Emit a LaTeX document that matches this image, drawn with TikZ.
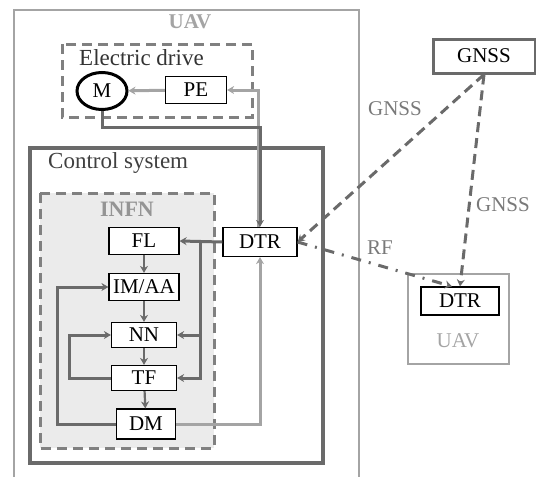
\documentclass[tikz,border=0pt]{standalone}
\usepackage{fontspec}
\setmainfont{Liberation Serif}
\usetikzlibrary{arrows.meta,shapes.geometric}

\definecolor{darkline}{HTML}{6A6A6A}
\definecolor{liteline}{HTML}{A4A4A4}
\definecolor{infnfill}{HTML}{EBEBEB}

\tikzset{
    blk/.style={draw=black, fill=white, line width=1.2pt, minimum height=27pt, inner sep=1pt,
        font=\fontsize{21}{24}\selectfont},
    lbl/.style={inner sep=0pt, font=\fontsize{21}{24}\selectfont},
    dashbox/.style={draw=darkline!85, line width=3pt, dash pattern=on 10pt off 6pt},
    lnk/.style={draw=darkline, line width=3pt, -{Stealth[length=7pt,width=8pt]}},
    litelnk/.style={lnk, draw=liteline},
    radiolnk/.style={lnk, dash pattern=on 10pt off 6pt},
}

\begin{document}
\begin{tikzpicture}[x=1pt, y=-1pt]
    \useasboundingbox (0,0) rectangle (536,477);

    \draw[liteline, line width=2.8pt] (14,477) -- (14,10) -- (359,10) -- (359,477);%own UAV
    \node[lbl, text=liteline, font=\fontsize{21}{24}\selectfont\bfseries] (uav) at (190,22) {UAV};

    \draw[dashbox] (62,44) rectangle (252,117);%electric drive
    \node[lbl, anchor=west, text=black!80, font=\fontsize{23}{26}\selectfont] (drvlbl) at (79,58) {Electric drive};

    \draw[darkline, line width=3.2pt] (30,148) rectangle (323,463);%control system
    \node[lbl, anchor=west, text=black!75, font=\fontsize{23}{26}\selectfont] (ctrllbl) at (48,163) {Control system};

    \draw[dashbox, fill=infnfill] (40,193) rectangle (214,448);%INFN
    \node[lbl, text=liteline!90!black, font=\fontsize{22}{25}\selectfont\bfseries] (infnlbl) at (127,209) {INFN};

    \node[blk, ellipse, line width=3pt, minimum width=50pt, minimum height=37pt, inner sep=0pt] (m) at (102,91) {M};
    \node[blk, minimum width=61pt] (pe) at (196,90) {PE};

    \node[blk, minimum width=74pt, minimum height=29pt] (dtr) at (260,242) {DTR};

    \node[blk, minimum width=70pt] (fl) at (144,241) {FL};
    \node[blk, minimum width=70pt] (im) at (144,287) {IM/AA};
    \node[blk, minimum width=65pt, minimum height=25pt] (nn) at (144,335) {NN};
    \node[blk, minimum width=65pt, minimum height=25pt] (tf) at (144,378) {TF};
    \node[blk, minimum width=59pt, minimum height=30pt] (dm) at (146,424) {DM};

    \node[blk, draw=darkline, line width=3pt, minimum width=102pt, minimum height=34pt] (gnss) at (484,56) {GNSS};
    \draw[liteline, line width=2.8pt] (408,274) rectangle (509,364);%other UAV
    \node[lbl, text=liteline] (uav2) at (458,341) {UAV};
    \node[blk, minimum width=78pt, minimum height=28pt] (rdtr) at (460,301) {DTR};

    % drive links
    \draw[litelnk] (pe) -- (m);
    \draw[litelnk] ([xshift=-2pt]dtr.north) |- (pe.east);
    \draw[lnk] (m.south) -- ++(0,16) -| (dtr.north);

    % INFN links
    \coordinate (br) at (200,242);
    \draw[lnk] (dtr.west) -- (fl.east);
    \draw[lnk] (br) |- (nn.east);
    \draw[lnk] (br) |- (tf.east);
    \draw[lnk, line width=2.2pt] (fl) -- (im);
    \draw[lnk, line width=2.2pt] (im) -- (nn);
    \draw[lnk, line width=2.2pt] (nn) -- (tf);
    \draw[lnk, line width=2.2pt] (tf) -- (dm);
    \draw[lnk] (dm.west) -- ++(-58,0) |- (im.west);
    \draw[lnk] (tf.west) -- ++(-41,0) |- (nn.west);
    \draw[litelnk] (dm.east) -| (dtr.south);

    % radio links
    \draw[radiolnk] (gnss.south) -- (dtr.east);
    \draw[radiolnk] (gnss.south) -- (rdtr.north);
    \draw[lnk, dash pattern=on 10pt off 8pt on 2pt off 8pt] (dtr.east) -- ([xshift=-8pt]rdtr.north);
    \node[lbl, text=darkline!90] (g1) at (395,109) {GNSS};
    \node[lbl, text=darkline!90] (g2) at (503,205) {GNSS};
    \node[lbl, text=darkline!90] (rf) at (380,248) {RF};
\end{tikzpicture}
\end{document}
